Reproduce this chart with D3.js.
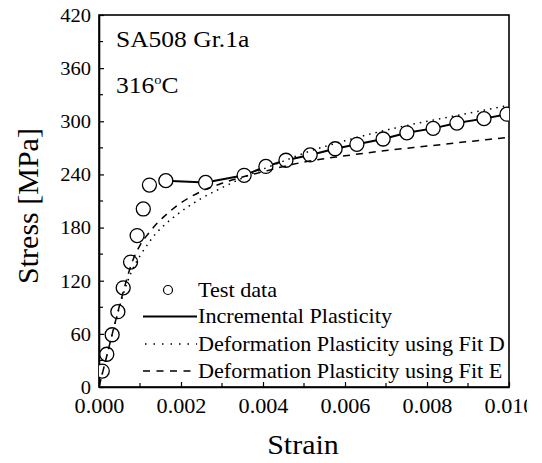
<!DOCTYPE html>
<html>
<head>
<meta charset="utf-8">
<script src="https://cdn.jsdelivr.net/npm/d3@7"></script>
<style>
  body { margin: 0; background: #fff; }
  svg text { font-family: 'Liberation Serif', 'DejaVu Serif', serif; fill: #000; }
</style>
</head>
<body>
<svg id="chart" width="542" height="463"></svg>
<script>
// test data (circles)
const testStrain = [0.00008, 0.00019, 0.00032, 0.00046, 0.00059, 0.00077, 0.00093, 0.00108, 0.00123,
  0.00163, 0.0026, 0.00354, 0.00407, 0.00456, 0.00515, 0.00576, 0.00629, 0.00693, 0.00751,
  0.00815, 0.00873, 0.00939, 0.00995];
const testStress = [18, 37, 59, 85, 112, 141, 171, 201, 228,
  233, 231, 239, 249, 256, 262, 269, 274, 280, 287,
  292, 298, 303, 308];

// incremental plasticity (solid)
const incStrain = [0.00163, 0.0026, 0.00354, 0.00407, 0.00456, 0.00515, 0.00576, 0.00629, 0.00693,
  0.00751, 0.00815, 0.00873, 0.00939, 0.00995, 0.010];
const incStress = [233, 231, 239, 249, 256, 262, 269, 274, 280,
  287, 292, 298, 303, 308, 309];

// deformation plasticity, fit D (dotted) and fit E (dashed)
const fitStrain = [0, 0.0002, 0.0004, 0.0006, 0.0008, 0.001, 0.0012, 0.0014, 0.0016, 0.0018, 0.002,
  0.0025, 0.003, 0.0035, 0.004, 0.0045, 0.005, 0.006, 0.007, 0.008, 0.009, 0.010];
const fitDStress = [0, 37, 73, 106, 131, 148, 162, 174, 183, 191, 198,
  213, 225, 236, 246, 255, 264, 278, 290, 300, 309, 318];
const fitEStress = [0, 37, 74, 109, 140, 160, 173, 184, 193, 201, 208,
  221, 230, 237, 243, 249, 254, 261, 267, 272, 277, 282];

const xTicks = [0, 0.002, 0.004, 0.006, 0.008, 0.010];
const yTicks = [0, 60, 120, 180, 240, 300, 360, 420];

const legendLabels = ['Test data', 'Incremental Plasticity',
  'Deformation Plasticity using Fit D', 'Deformation Plasticity using Fit E'];

const svg = d3.select('#chart');
const mLeft = 99, mRight = 509, mTop = 15, mBottom = 387;
const wide = 1.11; // the original lettering is a bit wider than Times

// widen a text horizontally around its own x anchor
function widen(sel) {
  sel.each(function() {
    const t = d3.select(this);
    const x0 = +t.attr('x') || 0;
    t.attr('transform', `translate(${x0},0) scale(${wide},1) translate(${-x0},0)`);
  });
}

const x = d3.scaleLinear().domain([0, 0.010]).range([mLeft, mRight]);
const y = d3.scaleLinear().domain([0, 420]).range([mBottom, mTop]);

const defs = svg.append('defs');
defs.append('clipPath').attr('id', 'pageClip')
  .append('rect').attr('x', -600).attr('y', -50).attr('width', 527 + 600).attr('height', 100);
defs.append('clipPath').attr('id', 'plotClip')
  .append('rect').attr('x', mLeft).attr('y', mTop).attr('width', mRight - mLeft).attr('height', mBottom - mTop);

// axes
const xAxis = svg.append('g')
  .attr('transform', `translate(0,${mBottom})`)
  .attr('clip-path', 'url(#pageClip)')
  .call(d3.axisBottom(x).tickValues(xTicks).tickFormat(d3.format('.3f')).tickSizeInner(-5).tickSizeOuter(0).tickPadding(10));

const yAxis = svg.append('g')
  .attr('transform', `translate(${mLeft},0)`)
  .call(d3.axisLeft(y).tickValues(yTicks).tickSizeInner(-5).tickSizeOuter(0).tickPadding(8));

svg.selectAll('g').attr('font-family', null);
xAxis.selectAll('.tick text').style('font-size', '20px').attr('dy', '0.8em');
yAxis.selectAll('.tick text').style('font-size', '18.5px').attr('dy', '0.34em');
widen(svg.selectAll('.tick text'));

// minor ticks
svg.append('g').selectAll('line')
  .data(d3.range(0.001, 0.010, 0.002))
  .join('line')
  .attr('x1', d => x(d)).attr('x2', d => x(d))
  .attr('y1', mBottom).attr('y2', mBottom - 4)
  .attr('stroke', '#000').attr('stroke-width', 1.2);
svg.append('g').selectAll('line')
  .data(d3.range(30, 420, 60))
  .join('line')
  .attr('x1', mLeft).attr('x2', mLeft + 4)
  .attr('y1', d => y(d)).attr('y2', d => y(d))
  .attr('stroke', '#000').attr('stroke-width', 1.2);

svg.selectAll('.domain').attr('stroke-width', 1.6);
svg.selectAll('.tick line').attr('stroke-width', 1.2);

// frame
svg.append('rect')
  .attr('x', mLeft).attr('y', mTop)
  .attr('width', mRight - mLeft).attr('height', mBottom - mTop)
  .attr('fill', 'none').attr('stroke', '#000').attr('stroke-width', 1.6);

const plot = svg.append('g').attr('clip-path', 'url(#plotClip)');

const lineGen = d3.line().x(d => x(d[0])).y(d => y(d[1])).curve(d3.curveMonotoneX);

plot.append('path')
  .datum(d3.zip(incStrain, incStress))
  .attr('d', d3.line().x(d => x(d[0])).y(d => y(d[1])))
  .attr('fill', 'none').attr('stroke', '#000').attr('stroke-width', 2);

plot.selectAll('circle.test')
  .data(d3.zip(testStrain, testStress))
  .join('circle')
  .attr('class', 'test')
  .attr('cx', d => x(d[0])).attr('cy', d => y(d[1]))
  .attr('r', 7)
  .attr('fill', '#fff').attr('stroke', '#000').attr('stroke-width', 1.3);

plot.append('path')
  .datum(d3.zip(fitStrain, fitDStress))
  .attr('d', lineGen)
  .attr('fill', 'none').attr('stroke', '#000').attr('stroke-width', 1.5)
  .attr('stroke-dasharray', '1.5,5');

plot.append('path')
  .datum(d3.zip(fitStrain, fitEStress))
  .attr('d', lineGen)
  .attr('fill', 'none').attr('stroke', '#000').attr('stroke-width', 1.5)
  .attr('stroke-dasharray', '7,6');

// annotations
const notes = svg.append('g');
const title = notes.append('text').attr('x', 116).attr('y', 47).style('font-size', '23px').text('SA508 Gr.1a');
const temp = notes.append('text').attr('x', 116).attr('y', 93).style('font-size', '23px');
temp.append('tspan').text('316');
temp.append('tspan').attr('dy', -9).style('font-size', '13px').text('o');
temp.append('tspan').attr('dy', 9).text('C');
widen(title);
widen(temp);

// axis titles
const xTitle = notes.append('text')
  .attr('x', (mLeft + mRight) / 2 - 1).attr('y', 454)
  .attr('text-anchor', 'middle').style('font-size', '27px')
  .text('Strain');
widen(xTitle);
notes.append('text')
  .attr('transform', `translate(38,${(mTop + mBottom) / 2 + 5}) rotate(-90)`)
  .attr('text-anchor', 'middle').style('font-size', '30px')
  .text('Stress [MPa]');

// legend
const legendY = [297, 323.5, 351, 378];
const legend = svg.append('g');
legend.append('circle').attr('cx', 168).attr('cy', legendY[0] - 7).attr('r', 4.5)
  .attr('fill', '#fff').attr('stroke', '#000').attr('stroke-width', 1.2);
legend.append('line').attr('x1', 143).attr('x2', 197).attr('y1', legendY[1] - 7).attr('y2', legendY[1] - 7)
  .attr('stroke', '#000').attr('stroke-width', 2);
legend.append('line').attr('x1', 145).attr('x2', 197).attr('y1', legendY[2] - 7).attr('y2', legendY[2] - 7)
  .attr('stroke', '#000').attr('stroke-width', 1.4).attr('stroke-dasharray', '1.5,7');
legend.append('line').attr('x1', 143).attr('x2', 197).attr('y1', legendY[3] - 7).attr('y2', legendY[3] - 7)
  .attr('stroke', '#000').attr('stroke-width', 1.4).attr('stroke-dasharray', '7,6.5');
const legendText = legend.selectAll('text')
  .data(legendLabels)
  .join('text')
  .attr('x', 198).attr('y', (d, i) => legendY[i])
  .style('font-size', '20px')
  .text(d => d);
widen(legendText);
</script>
</body>
</html>
